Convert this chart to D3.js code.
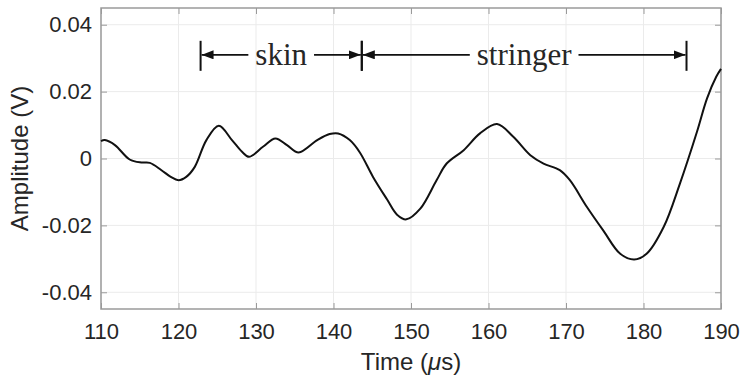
<!DOCTYPE html>
<html>
<head>
<meta charset="UTF-8">
<title>Amplitude vs Time</title>
<script src="https://d3js.org/d3.v7.min.js"></script>
<style>
  body { margin: 0; background: #fff; }
  svg text { fill: #262626; }
</style>
</head>
<body>
<div id="chart"></div>
<script>
// signal samples
const timeUs = [110, 110.5, 111.8, 113.7, 115.2, 116.3, 117.8, 119.0, 120.0, 121.0, 122.1, 123.6, 125.2, 126.9, 128.2, 129.1,
  130.9, 132.5, 134.0, 135.5, 137.9, 139.5, 140.6, 142.1, 143.4, 145.1, 146.9, 148.2, 149.4, 151.2, 153.3, 154.6,
  156.8, 158.9, 161.1, 163.2, 165.4, 167.1, 169.2, 170.5, 172.7, 174.8, 177.0, 178.8, 180.4, 182.6, 184.7, 186.9,
  188.2, 189.4, 190];
const amplitude = [0.0052, 0.0055, 0.0040, -0.0003, -0.0012, -0.0013, -0.0035, -0.0055, -0.0065, -0.0055, -0.0025, 0.0055,
  0.0098, 0.0055, 0.0020, 0.0005, 0.0035, 0.0060, 0.0040, 0.0018, 0.0055, 0.0073, 0.0075, 0.0055, 0.0018, -0.0055,
  -0.0122, -0.0168, -0.0182, -0.0150, -0.0065, -0.0015, 0.0025, 0.0075, 0.0103, 0.0065, 0.0010, -0.0015, -0.0035,
  -0.0065, -0.0145, -0.0215, -0.0285, -0.0302, -0.0285, -0.0205, -0.0075, 0.0080, 0.0180, 0.0245, 0.0268];

const xTicks = [110, 120, 130, 140, 150, 160, 170, 180, 190];
const yTicks = [-0.04, -0.02, 0, 0.02, 0.04];
const yTickLabels = ["-0.04", "-0.02", "0", "0.02", "0.04"];

// annotated regions (start, end in µs)
const regionNames = ["skin", "stringer"];
const regionStart = [122.85, 143.65];
const regionEnd = [143.65, 185.55];
const regionLevel = 0.031;

const width = 742, height = 379;
const margin = { top: 8, right: 21, bottom: 70, left: 101 };
const iw = width - margin.left - margin.right;
const ih = height - margin.top - margin.bottom;

const svg = d3.select("#chart").append("svg")
  .attr("width", width)
  .attr("height", height);

const x = d3.scaleLinear().domain([110, 190]).range([0, iw]);
const y = d3.scaleLinear().domain([-0.045, 0.045]).range([ih, 0]);

const g = svg.append("g").attr("transform", `translate(${margin.left},${margin.top})`);

// grid
g.append("g").selectAll("line").data(xTicks).join("line")
  .attr("x1", d => x(d)).attr("x2", d => x(d))
  .attr("y1", 0).attr("y2", ih)
  .attr("stroke", "#ebebeb").attr("stroke-width", 1);
g.append("g").selectAll("line").data(yTicks).join("line")
  .attr("x1", 0).attr("x2", iw)
  .attr("y1", d => y(d)).attr("y2", d => y(d))
  .attr("stroke", "#ebebeb").attr("stroke-width", 1);

// axes with inward ticks
const tickCol = "#9a9a9a";
const fmt = d => yTickLabels[yTicks.indexOf(d)];

const xb = g.append("g").attr("transform", `translate(0,${ih})`)
  .call(d3.axisBottom(x).tickValues(xTicks).tickSizeInner(-6).tickSizeOuter(0).tickPadding(14).tickFormat(d3.format("d")));
const xt = g.append("g")
  .call(d3.axisTop(x).tickValues(xTicks).tickSizeInner(-6).tickSizeOuter(0).tickFormat(""));
const yl = g.append("g")
  .call(d3.axisLeft(y).tickValues(yTicks).tickSizeInner(-6).tickSizeOuter(0).tickPadding(14).tickFormat(fmt));
const yr = g.append("g").attr("transform", `translate(${iw},0)`)
  .call(d3.axisRight(y).tickValues(yTicks).tickSizeInner(-6).tickSizeOuter(0).tickFormat(""));

[xb, xt, yl, yr].forEach(a => {
  a.select(".domain").remove();
  a.selectAll(".tick line").attr("stroke", tickCol);
  a.selectAll(".tick text")
    .attr("font-family", "'Liberation Sans', Arial, sans-serif")
    .attr("font-size", 22)
    .attr("fill", "#262626");
});
xb.selectAll(".tick text").attr("dy", "0.71em");
yl.selectAll(".tick text").attr("dx", 5);

g.append("rect")
  .attr("width", iw).attr("height", ih)
  .attr("fill", "none").attr("stroke", tickCol).attr("stroke-width", 1.5);

// signal
const line = d3.line()
  .x(d => x(d[0]))
  .y(d => y(d[1]))
  .curve(d3.curveCatmullRom.alpha(0.5));

g.append("path")
  .datum(d3.zip(timeUs, amplitude))
  .attr("fill", "none")
  .attr("stroke", "#111")
  .attr("stroke-width", 2)
  .attr("d", line);

// region annotations
svg.append("defs").append("marker")
  .attr("id", "head")
  .attr("viewBox", "0 0 12 9")
  .attr("refX", 12).attr("refY", 4.5)
  .attr("markerWidth", 12).attr("markerHeight", 9)
  .attr("markerUnits", "userSpaceOnUse")
  .attr("orient", "auto")
  .append("path").attr("d", "M0,0L12,4.5L0,9Z").attr("fill", "#111");

const ay = y(regionLevel);
regionNames.forEach((name, i) => {
  const x0 = x(regionStart[i]), x1 = x(regionEnd[i]);
  const cx = (x0 + x1) / 2;
  const ann = g.append("g");
  const label = ann.append("text")
    .attr("x", cx).attr("y", ay + 10)
    .attr("text-anchor", "middle")
    .attr("font-family", "'Liberation Serif', 'Times New Roman', serif")
    .attr("font-size", 31)
    .attr("fill", "#111")
    .text(name);
  const half = label.node().getComputedTextLength() / 2 + 7;
  [[cx - half, x0 + 1], [cx + half, x1 - 1]].forEach(([a, b]) => {
    ann.append("line")
      .attr("x1", a).attr("x2", b).attr("y1", ay).attr("y2", ay)
      .attr("stroke", "#111").attr("stroke-width", 1.8)
      .attr("marker-end", "url(#head)");
  });
  [x0, x1].forEach(xx => {
    ann.append("line")
      .attr("x1", xx).attr("x2", xx)
      .attr("y1", ay - 14).attr("y2", ay + 16)
      .attr("stroke", "#111").attr("stroke-width", 2);
  });
});

// axis titles
svg.append("text")
  .attr("x", margin.left + iw / 2).attr("y", 370)
  .attr("text-anchor", "middle")
  .attr("font-family", "'Liberation Sans', Arial, sans-serif")
  .attr("font-size", 24)
  .call(t => {
    t.append("tspan").text("Time (");
    t.append("tspan").attr("font-style", "italic").text("\u03bc");
    t.append("tspan").text("s)");
  });

svg.append("text")
  .attr("transform", `translate(28,${margin.top + ih / 2}) rotate(-90)`)
  .attr("text-anchor", "middle")
  .attr("font-family", "'Liberation Sans', Arial, sans-serif")
  .attr("font-size", 24)
  .text("Amplitude (V)");
</script>
</body>
</html>
